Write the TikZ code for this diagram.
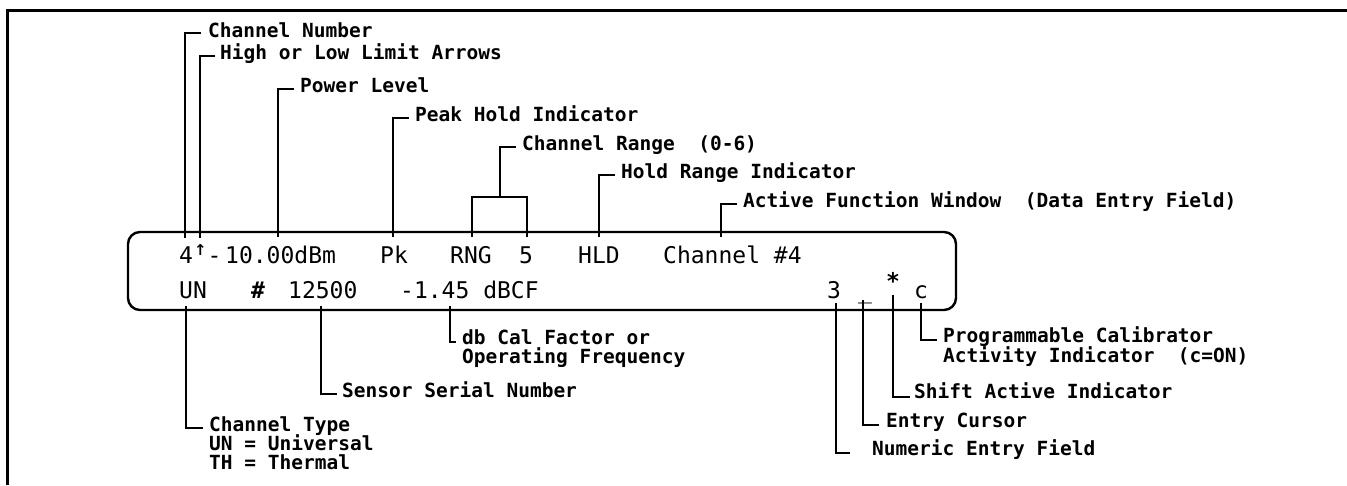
\documentclass[tikz,border=0pt]{standalone}
\usepackage{fontspec}
\newfontfamily\monof{DejaVu Sans Mono}
\newfontfamily\symf{DejaVu Sans}
\usetikzlibrary{calc}
\begin{document}
\begin{tikzpicture}[x=1pt,y=-1pt,
  lbl/.style={font=\monof\bfseries\fontsize{19.5}{19.5}\selectfont, inner sep=0pt, anchor=base west},
  disp/.style={font=\monof\fontsize{23}{23}\selectfont, inner sep=0pt, anchor=base west},
  lead/.style={line width=1.9pt},
  frame/.style={line width=3pt},
  screen/.style={line width=2.4pt, rounded corners=12pt}]
\useasboundingbox (0,0) rectangle (1347,485);
% outer frame (top and left edges)
\draw[frame] (1347,10) -- (7.5,10) -- (7.5,485);
% display
\draw[screen] (128,232) rectangle (956,310);
% row 1
\node[disp] (d4) at (179,263) {4};
\node[inner sep=0pt, anchor=base west, font=\symf\bfseries\fontsize{15}{15}\selectfont] (darr) at (194,255) {↑};
\node[disp] (ddash) at (207.5,263) {-};
\node[disp] (dpow) at (225,263) {10.00dBm};
\node[disp] (dpk) at (380,263) {Pk};
\node[disp] (drng) at (450,263) {RNG};
\node[disp] (dfive) at (519,263) {5};
\node[disp] (dhld) at (578,263) {HLD};
\node[disp] (dchan) at (663,263) {Channel \#4};
% row 2
\node[disp] (dun) at (179,298) {UN};
\node[disp,font=\monof\bfseries\fontsize{23}{23}\selectfont] (dhash) at (251,298) {\#};
\node[disp] (dser) at (288,298) {12500};
\node[disp] (dcf) at (400,298) {-1.45 dBCF};
\node[disp] (dthree) at (827,298) {3};
\node[disp] (dcur) at (858,298) {\_};
\node[disp,font=\monof\bfseries\fontsize{23}{23}\selectfont] (dstar) at (886,289) {*};
\node[disp] (dc) at (914,298) {c};
% top labels
\node[lbl] (l1) at (208,37) {Channel Number};
\node[lbl] (l2) at (220,59) {High or Low Limit Arrows};
\node[lbl] (l3) at (300,92) {Power Level};
\node[lbl] (l4) at (415,121) {Peak Hold Indicator};
\node[lbl] (l5) at (522,150) {Channel Range~ (0-6)};
\node[lbl] (l6) at (621,178) {Hold Range Indicator};
\node[lbl] (l7) at (743,207) {Active Function Window~ (Data Entry Field)};
% bottom labels
\node[lbl] (l8a) at (209,431) {Channel Type};
\node[lbl] (l8b) at (209,450) {UN = Universal};
\node[lbl] (l8c) at (209,469) {TH = Thermal};
\node[lbl] (l9) at (342,397) {Sensor Serial Number};
\node[lbl] (l10a) at (462,344) {db Cal Factor or};
\node[lbl] (l10b) at (462,363) {Operating Frequency};
\node[lbl] (l11a) at (943,342) {Programmable Calibrator};
\node[lbl] (l11b) at (943,362) {Activity Indicator~ (c=ON)};
\node[lbl] (l12) at (914,398) {Shift Active Indicator};
\node[lbl] (l13) at (886,427) {Entry Cursor};
\node[lbl] (l14) at (872,455) {Numeric Entry Field};
% leader feet
\coordinate (f1) at (185,238);
\coordinate (f2) at (200,238);
\coordinate (f3) at (278,237);
\coordinate (f4) at (393,237);
\coordinate (f5a) at (472,237);
\coordinate (f5b) at (527,237);
\coordinate (br) at (500,197);
\coordinate (f6) at (599,237);
\coordinate (f7) at (721,237);
\coordinate (g8) at (186,306);
\coordinate (g9) at (321,306);
\coordinate (g10) at (450,306);
\coordinate (g11) at (921,303);
\coordinate (g12) at (893,295);
\coordinate (g13) at (863,300);
\coordinate (g14) at (836,303);
% top leaders
\draw[lead] (f1) |- ($(l1.base west)+(-7,-4)$);
\draw[lead] (f2) |- ($(l2.base west)+(-5,-3)$);
\draw[lead] (f3) |- ($(l3.base west)+(-6,-3)$);
\draw[lead] (f4) |- ($(l4.base west)+(-6,-3)$);
\draw[lead] (f5a) |- (br) -| (f5b);
\draw[lead] (br) |- ($(l5.base west)+(-6,-3)$);
\draw[lead] (f6) |- ($(l6.base west)+(-6,-3)$);
\draw[lead] (f7) |- ($(l7.base west)+(-6,-3)$);
% bottom leaders
\draw[lead] (g8) |- ($(l8a.base west)+(-6,-3)$);
\draw[lead] (g9) |- ($(l9.base west)+(-5,-3)$);
\draw[lead] (g10) |- ($(l10a.base west)+(-6,-2)$);
\draw[lead] (g11) |- ($(l11a.base west)+(-6,-2)$);
\draw[lead] (g12) |- ($(l12.base west)+(-4,-1)$);
\draw[lead] (g13) |- ($(l13.base west)+(-7,-2)$);
\draw[lead] (g14) |- ($(l14.base west)+(-22,-2)$);
\end{tikzpicture}
\end{document}
